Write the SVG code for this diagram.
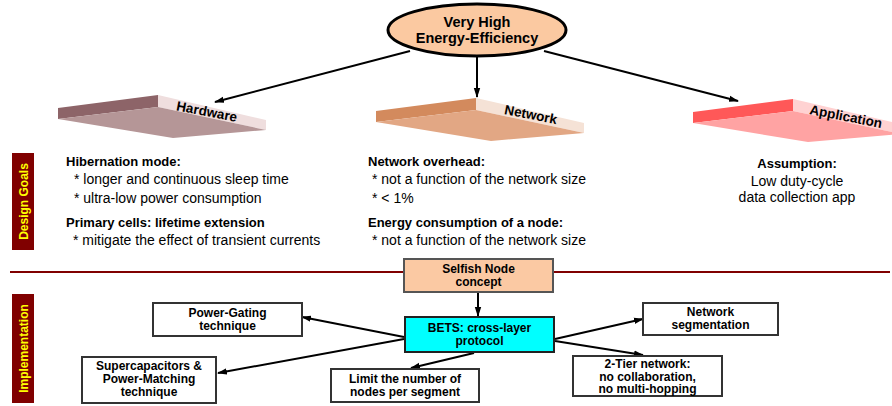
<svg xmlns="http://www.w3.org/2000/svg" width="892" height="406" viewBox="0 0 892 406">
<defs>
<marker id="ah" markerUnits="userSpaceOnUse" markerWidth="10" markerHeight="8" refX="9" refY="4" orient="auto">
<path d="M0,0.8 L10,4 L0,7.2 Z" fill="#000"/>
</marker>
</defs>
<style>
text{font-family:"Liberation Sans",Arial,sans-serif;fill:#000}
.b{font-weight:bold}
.bx{font-weight:bold;font-size:12px;text-anchor:middle}
.g{font-size:14px}
.gh{font-size:13px;font-weight:bold}
.box{fill:#fff;stroke:#333;stroke-width:2}
.cn{stroke:#000;stroke-width:2;fill:none;marker-end:url(#ah)}
.side{font-weight:bold;font-size:12px;fill:#ffff00;text-anchor:middle}
.sl{font-weight:bold;font-size:13.5px;text-anchor:middle}
</style>
<rect width="892" height="406" fill="#fff"/>

<line x1="10" y1="272" x2="890" y2="272" stroke="#800000" stroke-width="2"/>

<g id="side-design">
<rect x="12" y="153" width="22" height="97" fill="#800000"/>
<text class="side" transform="translate(27.5,201.5) rotate(-90)">Design Goals</text>
</g>
<g id="side-impl">
<rect x="12" y="294" width="22" height="109" fill="#800000"/>
<text class="side" transform="translate(27.5,348.5) rotate(-90)">Implementation</text>
</g>

<g id="connectors">
<line class="cn" x1="410" y1="51" x2="215" y2="102"/>
<line class="cn" x1="477" y1="57" x2="477" y2="97"/>
<line class="cn" x1="544" y1="51" x2="738" y2="101"/>
<line class="cn" x1="478" y1="292" x2="478" y2="316"/>
<line class="cn" x1="404" y1="337" x2="302" y2="317"/>
<line class="cn" x1="404" y1="339" x2="218" y2="373"/>
<line class="cn" x1="474" y1="353" x2="411" y2="368"/>
<line class="cn" x1="555" y1="339" x2="643" y2="319"/>
<line class="cn" x1="555" y1="341" x2="643" y2="355"/>
</g>

<g id="goal">
<ellipse cx="477" cy="30" rx="89" ry="26" fill="#fbc9a1" stroke="#000" stroke-width="3"/>
<text class="b" x="477" y="26.5" font-size="14.5" text-anchor="middle">Very High</text>
<text class="b" x="477" y="43" font-size="14.5" text-anchor="middle">Energy-Efficiency</text>
</g>

<g id="hardware">
<polygon points="58,108 158,95 158,107 58,119" fill="#8d6468"/>
<polygon points="158,95 266,120 266,130 158,107" fill="#efdede"/>
<polygon points="58,119 158,107 266,130 173,138" fill="#b59697"/>
<text class="sl" transform="translate(206,116) rotate(11)">Hardware</text>
</g>
<g id="network">
<polygon points="376,111 476,98 476,110 376,122" fill="#d38a5d"/>
<polygon points="476,98 584,123 584,133 476,110" fill="#f5e2d6"/>
<polygon points="376,122 476,110 584,133 491,141" fill="#e2a784"/>
<text class="sl" transform="translate(530,119) rotate(11)">Network</text>
</g>
<g id="application">
<polygon points="693,112 793,99 793,111 693,123" fill="#ff5858"/>
<polygon points="793,99 901,124 901,134 793,111" fill="#ffd2d2"/>
<polygon points="693,123 793,111 901,134 808,142" fill="#ffa3a3"/>
<text class="sl" transform="translate(845,121) rotate(11)">Application</text>
</g>

<g id="goals-hardware">
<text class="gh" x="66" y="166">Hibernation mode:</text>
<text class="g" x="74" y="184">* longer and continuous sleep time</text>
<text class="g" x="74" y="203">* ultra-low power consumption</text>
<text class="gh" x="66" y="227">Primary cells: lifetime extension</text>
<text class="g" x="73" y="245">* mitigate the effect of transient currents</text>
</g>
<g id="goals-network">
<text class="gh" x="368" y="166">Network overhead:</text>
<text class="g" x="372" y="184">* not a function of the network size</text>
<text class="g" x="372" y="203">* &lt; 1%</text>
<text class="gh" x="368" y="227">Energy consumption of a node:</text>
<text class="g" x="372" y="245">* not a function of the network size</text>
</g>
<g id="goals-application">
<text class="gh" x="797" y="168" text-anchor="middle">Assumption:</text>
<text class="g" x="797" y="186" text-anchor="middle">Low duty-cycle</text>
<text class="g" x="797" y="202" text-anchor="middle">data collection app</text>
</g>

<g id="selfish">
<rect x="404" y="259" width="149" height="33" fill="#fbc9a3" stroke="#555" stroke-width="2"/>
<text class="bx" x="478.5" y="273">Selfish Node</text>
<text class="bx" x="478.5" y="286">concept</text>
</g>
<g id="bets">
<rect x="405" y="317" width="149" height="35" fill="#00ffff" stroke="#222" stroke-width="2"/>
<text class="bx" x="479.5" y="332">BETS: cross-layer</text>
<text class="bx" x="479.5" y="345">protocol</text>
</g>
<g id="power-gating">
<rect class="box" x="153" y="303" width="149" height="33"/>
<text class="bx" x="227.5" y="317">Power-Gating</text>
<text class="bx" x="227.5" y="330">technique</text>
</g>
<g id="supercap">
<rect class="box" x="82" y="357" width="134" height="46"/>
<text class="bx" x="149" y="370">Supercapacitors &amp;</text>
<text class="bx" x="149" y="383">Power-Matching</text>
<text class="bx" x="149" y="396">technique</text>
</g>
<g id="limit">
<rect class="box" x="331" y="369" width="148" height="33"/>
<text class="bx" x="405" y="383">Limit the number of</text>
<text class="bx" x="405" y="396">nodes per segment</text>
</g>
<g id="segmentation">
<rect class="box" x="643" y="303" width="135" height="32"/>
<text class="bx" x="710.5" y="316">Network</text>
<text class="bx" x="710.5" y="329">segmentation</text>
</g>
<g id="two-tier">
<rect class="box" x="573" y="356" width="149" height="40"/>
<text class="bx" x="647.5" y="368">2-Tier network:</text>
<text class="bx" x="647.5" y="380.5">no collaboration,</text>
<text class="bx" x="647.5" y="393">no multi-hopping</text>
</g>
</svg>
